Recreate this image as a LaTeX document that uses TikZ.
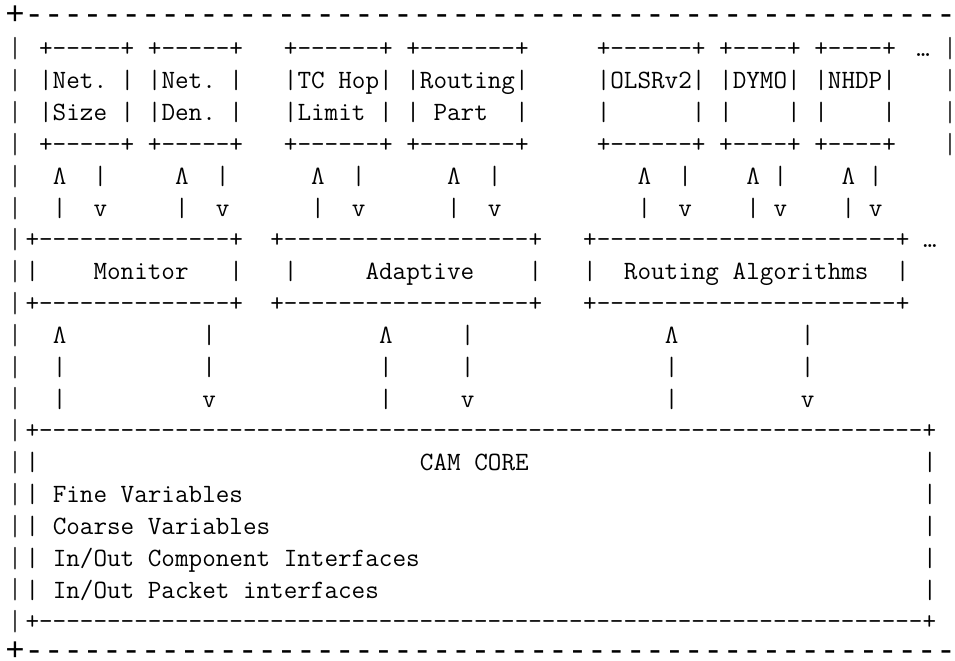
\documentclass[tikz,border=0pt]{standalone}
\usepackage{fontspec}
\usepackage{tikz}
\newfontfamily\framefont{Liberation Mono}

\begin{document}
\begin{tikzpicture}[x=0.02cm, y=-0.02cm,
  asc/.style={font=\ttfamily\fontsize{15.02}{17}\selectfont, inner sep=0pt, anchor=base west},
  frame/.style={font=\framefont\fontsize{18.4}{22}\selectfont, inner sep=0pt},
  bar/.style={font=\ttfamily\fontsize{16.5}{19}\selectfont, inner sep=0pt, text=black!75}]
  \def\cw{13.6}   % column width (px)
  \def\rh{31.83}  % row height (px)
  \def\cx#1{25.2+\cw*#1}       % left edge of column
  \def\ry#1{57+\rh*(#1-1)}     % baseline of row
  \def\dashrun#1{\foreach \i in {1,...,#1}{-}}

  \useasboundingbox (0,0) rectangle (955,661);
  \fill[white] (0,0) rectangle (955,661);
  \clip (0,0) rectangle (955,661);

  % Outer frame
  \node[frame, anchor=west] (frametop) at (5,15) {+\dashrun{50}};
  \node[frame, anchor=west] (framebot) at (5,651) {+\dashrun{50}};
  \foreach \r in {1,...,19}
    \node[bar] (left\r) at (15, {49+\rh*(\r-1)}) {|};
  \foreach \r in {1,...,4}
    \node[bar] (right\r) at (950, {49+\rh*(\r-1)}) {|};

  % Top boxes: name, column, dashes, 2nd line, 3rd line
  \def\topbox#1#2#3#4#5{
    \node[asc] (#1top) at ({\cx{#2}},{\ry{1}}) {+\dashrun{#3}+};
    \node[asc] (#1a) at ({\cx{#2}},{\ry{2}}) {|#4|};
    \node[asc] (#1b) at ({\cx{#2}},{\ry{3}}) {|#5|};
    \node[asc] (#1bot) at ({\cx{#2}},{\ry{4}}) {+\dashrun{#3}+};
  }
  \topbox{size}{1}{5}{Net.~}{Size~}
  \topbox{den}{9}{5}{Net.~}{Den.~}
  \topbox{hop}{19}{6}{TC~Hop}{Limit~}
  \topbox{part}{28}{7}{Routing}{~Part~~}
  \topbox{olsr}{42}{6}{OLSRv2}{~~~~~~}
  \topbox{dymo}{51}{4}{DYMO}{~~~~}
  \topbox{nhdp}{58}{4}{NHDP}{~~~~}
  \node[asc] (moretop) at ({\cx{65.5}},{\ry{1}}) {…};

  % Links between top boxes and middle boxes
  \foreach \u/\d in {2/5, 11/14, 21/24, 31/34, 45/48, 53/55, 60/62} {
    \node[asc] (upa\u) at ({\cx{\u}},{\ry{5}}) {Λ};
    \node[asc] (dna\d) at ({\cx{\d}},{\ry{5}}) {|};
    \node[asc] (upb\u) at ({\cx{\u}},{\ry{6}}) {|};
    \node[asc] (dnb\d) at ({\cx{\d}},{\ry{6}}) {v};
  }

  % Middle boxes: name, column, dashes, column of side, text
  \def\midbox#1#2#3#4#5{
    \node[asc] (#1top) at ({\cx{#2}},{\ry{7}}) {+\dashrun{#3}+};
    \node[asc] (#1) at ({\cx{#4}},{\ry{8}}) {#5};
    \node[asc] (#1bot) at ({\cx{#2}},{\ry{9}}) {+\dashrun{#3}+};
  }
  \midbox{monitor}{0}{14}{0}{|~~~~Monitor~~~|}
  \midbox{adaptive}{18}{18}{19}{|~~~~~Adaptive~~~~|}
  \midbox{routing}{41}{22}{41}{|~~Routing~Algorithms~~|}
  \node[asc] (moremid) at ({\cx{66}},{\ry{7}}) {…};

  % Links between middle boxes and the core
  \foreach \u/\d in {2/13, 26/32, 47/57} {
    \node[asc] (upc\u) at ({\cx{\u}},{\ry{10}}) {Λ};
    \node[asc] (dnc\d) at ({\cx{\d}},{\ry{10}}) {|};
    \node[asc] (upd\u) at ({\cx{\u}},{\ry{11}}) {|};
    \node[asc] (dnd\d) at ({\cx{\d}},{\ry{11}}) {|};
    \node[asc] (upe\u) at ({\cx{\u}},{\ry{12}}) {|};
    \node[asc] (dne\d) at ({\cx{\d}},{\ry{12}}) {v};
  }

  % CAM core
  \node[asc] (coretop) at ({\cx{0}},{\ry{13}}) {+\dashrun{65}+};
  \node[asc] (corebot) at ({\cx{0}},{\ry{19}}) {+\dashrun{65}+};
  \foreach \r in {14,...,18} {
    \node[asc] (coreL\r) at ({\cx{0}},{\ry{\r}}) {|};
    \node[asc] (coreR\r) at ({\cx{66}},{\ry{\r}}) {|};
  }
  \node[asc] (core) at ({\cx{29}},{\ry{14}}) {CAM~CORE};
  \node[asc] (fine) at ({\cx{2}},{\ry{15}}) {Fine~Variables};
  \node[asc] (coarse) at ({\cx{2}},{\ry{16}}) {Coarse~Variables};
  \node[asc] (compif) at ({\cx{2}},{\ry{17}}) {In/Out~Component~Interfaces};
  \node[asc] (pktif) at ({\cx{2}},{\ry{18}}) {In/Out~Packet~interfaces};
\end{tikzpicture}
\end{document}
